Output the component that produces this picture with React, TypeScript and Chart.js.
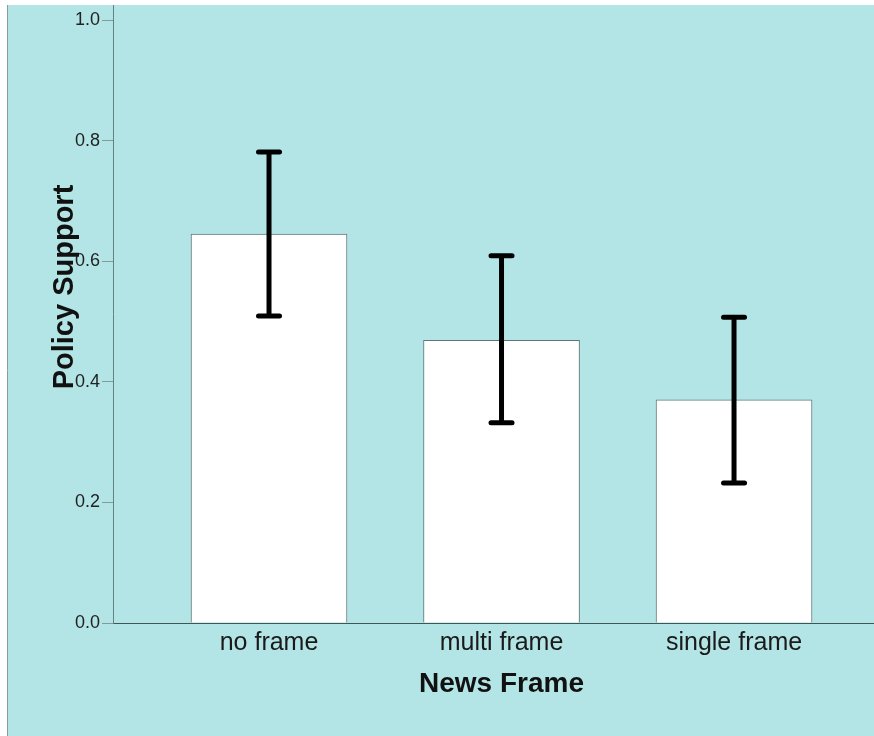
import React, { useEffect, useRef } from "react";
import { Chart, registerables } from "chart.js";

Chart.register(...registerables);

// Mean policy support by news frame, with 95% CI bounds
const categories = ["no frame", "multi frame", "single frame"];
const meanSupport = [0.645, 0.469, 0.37];
const ciUpper = [0.781, 0.609, 0.507];
const ciLower = [0.509, 0.332, 0.232];
const yTickValues = [0, 0.2, 0.4, 0.6, 0.8, 1.0];

const FONT = "'Liberation Sans', Arial, sans-serif";
const PANEL = "#b4e5e6";

const panelBackground = {
  id: "panelBackground",
  beforeDraw(chart: any) {
    const { ctx, width, height } = chart;
    ctx.save();
    ctx.fillStyle = "#ffffff";
    ctx.fillRect(0, 0, width, height);
    ctx.fillStyle = PANEL;
    ctx.fillRect(8, 5, width - 8, height - 5);
    ctx.strokeStyle = "#8c9c9c";
    ctx.lineWidth = 1;
    ctx.beginPath();
    ctx.moveTo(7.5, 5);
    ctx.lineTo(7.5, height);
    ctx.stroke();
    ctx.restore();
  },
};

const errorBars = {
  id: "errorBars",
  afterDatasetsDraw(chart: any) {
    const { ctx } = chart;
    const xs = chart.scales.x;
    const ys = chart.scales.y;
    ctx.save();
    ctx.strokeStyle = "#000000";
    ctx.lineWidth = 5;
    categories.forEach((_, i) => {
      const x = xs.getPixelForValue(i);
      const yHi = ys.getPixelForValue(ciUpper[i]);
      const yLo = ys.getPixelForValue(ciLower[i]);
      ctx.lineCap = "butt";
      ctx.beginPath();
      ctx.moveTo(x, yHi);
      ctx.lineTo(x, yLo);
      ctx.stroke();
      ctx.lineCap = "round";
      ctx.beginPath();
      ctx.moveTo(x - 10.5, yHi);
      ctx.lineTo(x + 10.5, yHi);
      ctx.moveTo(x - 10.5, yLo);
      ctx.lineTo(x + 10.5, yLo);
      ctx.stroke();
    });
    ctx.restore();
  },
};

const axisTitles = {
  id: "axisTitles",
  afterDraw(chart: any) {
    const { ctx } = chart;
    const xs = chart.scales.x;
    ctx.save();
    ctx.fillStyle = "#111111";
    ctx.textAlign = "center";
    ctx.textBaseline = "alphabetic";
    ctx.font = `bold 28px ${FONT}`;
    ctx.fillText("News Frame", xs.getPixelForValue(1), 692);
    ctx.translate(73, 287);
    ctx.rotate(-Math.PI / 2);
    ctx.font = `bold 29px ${FONT}`;
    ctx.fillText("Policy Support", 0, 0);
    ctx.restore();
  },
};

export default function App() {
  const canvasRef = useRef<HTMLCanvasElement | null>(null);

  useEffect(() => {
    if (!canvasRef.current) return;
    const chart = new Chart(canvasRef.current, {
      type: "bar",
      data: {
        datasets: [
          {
            data: meanSupport.map((v, i) => ({ x: i, y: v })),
            backgroundColor: "#ffffff",
            borderColor: "#5f7777",
            borderWidth: 1,
            barThickness: 156,
          },
        ],
      },
      options: {
        responsive: false,
        animation: false,
        devicePixelRatio: 1,
        layout: { padding: { top: 5, left: 0, right: 0, bottom: 0 } },
        plugins: {
          legend: { display: false },
          tooltip: { enabled: false },
        },
        scales: {
          x: {
            type: "linear",
            offset: false,
            bounds: "ticks",
            min: -0.671,
            max: 2.602,
            afterBuildTicks: (scale: any) => {
              scale.ticks = categories.map((_, i) => ({ value: i }));
            },
            afterFit: (scale: any) => {
              scale.height = 113;
              scale.paddingLeft = 0;
              scale.paddingRight = 0;
            },
            grid: { display: true, drawOnChartArea: false, drawTicks: false, offset: false },
            border: { display: true, color: "#3e5656", width: 1 },
            ticks: {
              padding: 5,
              color: "#1a1a1a",
              font: { family: FONT, size: 25 },
              maxRotation: 0,
              autoSkip: false,
              callback: (v: any) => categories[Number(v)] ?? "",
            },
          },
          y: {
            min: 0,
            max: 1.025,
            afterBuildTicks: (scale: any) => {
              scale.ticks = yTickValues.map((v) => ({ value: v }));
            },
            afterFit: (scale: any) => {
              scale.width = 113;
              scale.paddingTop = 0;
              scale.paddingBottom = 0;
            },
            grid: {
              display: true,
              drawOnChartArea: false,
              drawTicks: true,
              tickLength: 11,
              color: "#7f9c9c",
            },
            border: { display: true, color: "#5f8383", width: 1 },
            ticks: {
              padding: 2,
              color: "#222222",
              font: { family: FONT, size: 18 },
              callback: (v: any) => Number(v).toFixed(1),
            },
          },
        },
      },
      plugins: [panelBackground, errorBars, axisTitles],
    });
    return () => chart.destroy();
  }, []);

  return (
    <div style={{ position: "absolute", left: 0, top: 0, width: 874, height: 736 }}>
      <canvas ref={canvasRef} width={874} height={736} style={{ display: "block" }} />
    </div>
  );
}
